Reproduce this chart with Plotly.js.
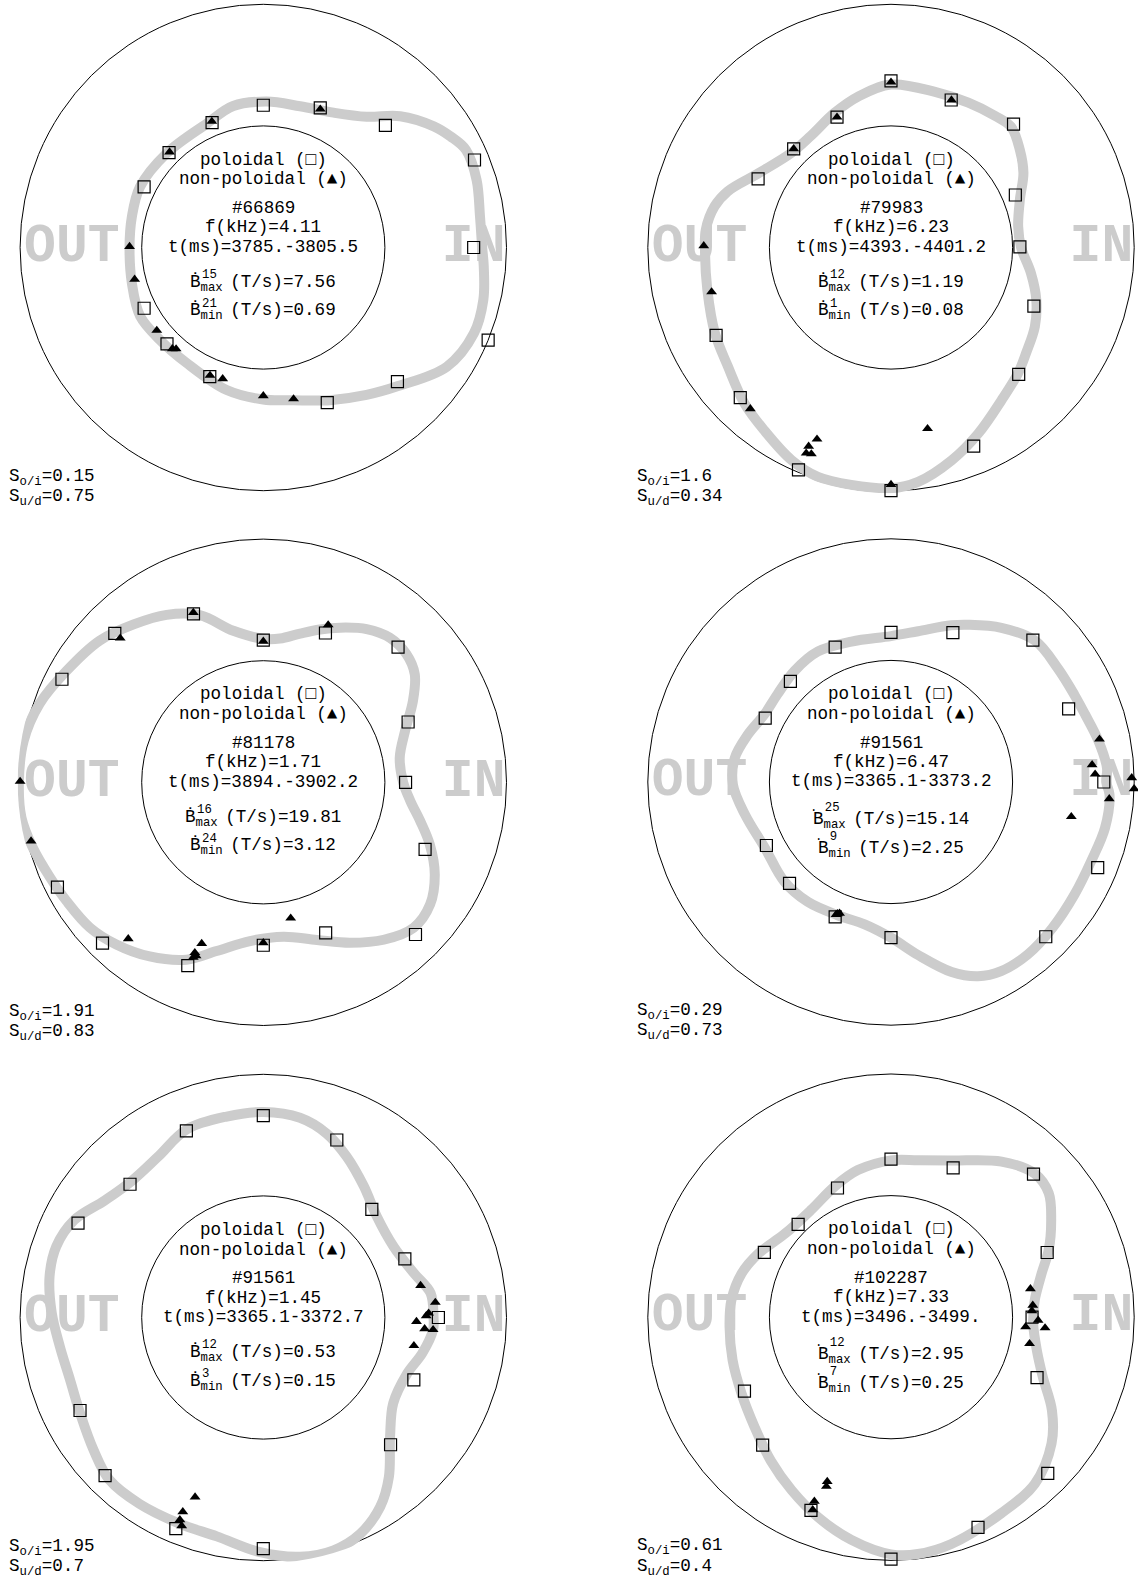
<!DOCTYPE html>
<html>
<head>
<meta charset="utf-8">
<script src="https://cdn.plot.ly/plotly-3.0.1.min.js"></script>
<style>html,body{margin:0;padding:0;background:#fff;}</style>
</head>
<body>
<div id="chart" style="width:1138px;height:1583px;"></div>
<script>
// ---- shot metadata (one entry per panel) ----
const shots    = ['#66869', '#79983', '#81178', '#91561', '#91561', '#102287'];
const freqs    = ['4.11', '6.23', '1.71', '6.47', '1.45', '7.33'];
const times    = ['3785.-3805.5', '4393.-4401.2', '3894.-3902.2', '3365.1-3373.2', '3365.1-3372.7', '3496.-3499.'];
const bmaxVal  = ['7.56', '1.19', '19.81', '15.14', '0.53', '2.95'];
const bmaxCoil = ['15', '12', '16', '25', '12', '12'];
const bminVal  = ['0.69', '0.08', '3.12', '2.25', '0.15', '0.25'];
const bminCoil = ['21', '1', '24', '9', '3', '7'];
const sOI      = ['0.15', '1.6', '1.91', '0.29', '1.95', '0.61'];
const sUD      = ['0.75', '0.34', '0.83', '0.73', '0.7', '0.4'];

// ---- amplitude contours (theta in degrees, r: inner ring = 1, outer ring = 2) ----
const p1CurveTheta = [0, 8, 17.6, 25.7, 30.7, 35.4, 43.8, 51.7, 62.5, 75.4, 88.7, 102, 114.5, 135.7, 153.7, 166.8, 180, 195.2, 209.2, 221.8, 236.5, 255.6, 270, 281.1, 293.6, 305, 314.2, 327, 337.8, 346.6, 355];
const p1CurveR     = [1.80, 1.80, 1.84, 1.85, 1.79, 1.72, 1.56, 1.37, 1.25, 1.20, 1.20, 1.19, 1.12, 1.11, 1.13, 1.11, 1.10, 1.12, 1.16, 1.14, 1.14, 1.21, 1.25, 1.28, 1.37, 1.48, 1.59, 1.80, 1.87, 1.86, 1.82];
const p2CurveTheta = [0, 9.4, 20.3, 29.4, 37.2, 45.2, 51.6, 61.9, 74.2, 90, 102.3, 112.8, 125.7, 136.6, 150.8, 161, 166.9, 174.5, 181.7, 193, 205.9, 216.1, 226.8, 235.3, 244.9, 252.3, 260.5, 270, 276.6, 285.9, 295.1, 305.9, 315.3, 322, 331.2, 340.2, 349.6];
const p2CurveR     = [1.07, 1.06, 1.13, 1.25, 1.33, 1.40, 1.38, 1.35, 1.33, 1.34, 1.27, 1.20, 1.13, 1.13, 1.25, 1.42, 1.49, 1.53, 1.53, 1.55, 1.61, 1.66, 1.76, 1.83, 1.93, 1.98, 1.98, 1.98, 1.94, 1.82, 1.69, 1.55, 1.47, 1.41, 1.35, 1.27, 1.17];
const p3CurveTheta = [0, 10.2, 19.9, 28.5, 35.5, 41.8, 48.8, 56, 63.6, 69.7, 76.1, 83.4, 90, 101.2, 110.8, 120, 129.4, 139.1, 150.5, 160.7, 170.2, 180, 188.3, 195.9, 204.1, 211.1, 220, 227.8, 236.9, 246.6, 254.5, 265.2, 277.4, 288.8, 298.4, 307.4, 315.9, 323.8, 331.8, 339.6, 346.1, 352.7];
const p3CurveR     = [1.15, 1.14, 1.24, 1.40, 1.53, 1.58, 1.58, 1.52, 1.42, 1.34, 1.26, 1.19, 1.18, 1.27, 1.47, 1.59, 1.68, 1.78, 1.86, 1.95, 2.00, 2.01, 2.01, 1.97, 1.92, 1.89, 1.86, 1.80, 1.71, 1.59, 1.44, 1.31, 1.28, 1.37, 1.50, 1.63, 1.72, 1.70, 1.60, 1.46, 1.33, 1.22];
const p4CurveTheta = [0, 3.7, 11.1, 19.2, 25.4, 34.3, 44.4, 54.4, 63.9, 69, 79.8, 90, 105.7, 119.2, 131, 142.3, 151.9, 161.7, 171.3, 181, 192.6, 207.6, 223, 235.2, 248.2, 259.5, 270, 278.9, 287.7, 294.1, 300.2, 308.4, 317.7, 328.5, 338.4, 347.9, 356.7];
const p4CurveR     = [1.77, 1.78, 1.74, 1.69, 1.67, 1.66, 1.66, 1.56, 1.44, 1.38, 1.26, 1.20, 1.20, 1.23, 1.21, 1.18, 1.18, 1.24, 1.30, 1.30, 1.23, 1.17, 1.20, 1.20, 1.18, 1.19, 1.28, 1.44, 1.64, 1.75, 1.80, 1.81, 1.79, 1.77, 1.77, 1.80, 1.80];
const p5CurveTheta = [0, 8.3, 16.5, 28.6, 41.7, 52.6, 62.6, 71, 79.6, 90, 100.3, 112.2, 123.3, 134.1, 143.5, 152.8, 161, 169.1, 178.8, 188.1, 197.9, 207.6, 217.9, 226.6, 236.4, 247.9, 258, 269.2, 278.7, 286.8, 294.1, 301.7, 308.2, 316.8, 326.6, 338.8, 347.3, 355.9];
const p5CurveR     = [1.40, 1.39, 1.29, 1.22, 1.25, 1.36, 1.49, 1.60, 1.67, 1.69, 1.68, 1.67, 1.58, 1.56, 1.62, 1.75, 1.80, 1.79, 1.74, 1.69, 1.67, 1.70, 1.77, 1.84, 1.84, 1.83, 1.84, 1.93, 1.99, 2.00, 1.95, 1.83, 1.67, 1.43, 1.28, 1.27, 1.34, 1.40];
const p6CurveTheta = [0, 6.7, 16.2, 23.1, 31.2, 38.2, 45, 54.6, 69, 80.2, 90, 102.7, 113.4, 126.7, 141.8, 154.4, 163.7, 173.9, 183.4, 195.2, 207, 218.8, 230.1, 240.1, 249.9, 259.9, 270, 276.5, 284.9, 299.3, 310.8, 321.8, 329.9, 338.6, 347.2, 357.4];
const p6CurveR     = [1.17, 1.19, 1.29, 1.41, 1.54, 1.65, 1.67, 1.57, 1.38, 1.31, 1.29, 1.24, 1.17, 1.10, 1.11, 1.21, 1.28, 1.32, 1.33, 1.35, 1.38, 1.44, 1.54, 1.64, 1.75, 1.86, 1.95, 1.96, 1.93, 1.85, 1.81, 1.68, 1.53, 1.34, 1.23, 1.17];

// ---- poloidal probes (squares) ----
const p1SqTheta = [90, 67.8, 45, 22.5, 0, 337.6, 315, 292.4, 247.5, 225, 207, 153, 134.8, 112.3];
const p1SqR     = [1.17, 1.24, 1.42, 1.88, 1.73, 2.00, 1.56, 1.38, 1.15, 1.12, 1.10, 1.10, 1.10, 1.11];
const p2SqTheta = [90, 67.8, 45.2, 22.9, 0.3, 337.7, 315.2, 292.6, 270, 247.4, 224.9, 206.7, 152.7, 134.6, 112.5];
const p2SqR     = [1.37, 1.31, 1.43, 1.11, 1.06, 1.27, 1.48, 1.77, 2.00, 1.98, 1.75, 1.61, 1.23, 1.14, 1.16];
const p3SqTheta = [112.5, 90, 67.4, 45.1, 22.6, 0, 337.5, 315, 292.5, 270, 247.6, 225, 207, 152.9, 134.9];
const p3SqR     = [1.50, 1.17, 1.33, 1.57, 1.29, 1.17, 1.44, 1.77, 1.34, 1.34, 1.63, 1.87, 1.90, 1.86, 1.73];
const p4SqTheta = [90, 67.5, 45, 22.4, 0, 337.5, 315, 270, 247.5, 225, 207, 153.1, 135, 112.5];
const p4SqR     = [1.23, 1.33, 1.65, 1.58, 1.75, 1.84, 1.80, 1.28, 1.20, 1.18, 1.15, 1.16, 1.17, 1.20];
const p5SqTheta = [90, 67.5, 44.9, 22.5, 0, 337.5, 315, 270, 247.5, 225, 206.9, 153, 135, 112.4];
const p5SqR     = [1.66, 1.58, 1.26, 1.26, 1.44, 1.34, 1.48, 1.90, 1.88, 1.84, 1.69, 1.71, 1.55, 1.66];
const p6SqTheta = [90, 67.4, 45.1, 22.5, 0, 337.5, 315.1, 292.5, 270, 247.5, 224.9, 206.8, 152.9, 135, 112.5];
const p6SqR     = [1.30, 1.33, 1.66, 1.39, 1.16, 1.30, 1.82, 1.87, 1.99, 1.72, 1.49, 1.35, 1.17, 1.08, 1.15];

// ---- non-poloidal probes (triangles) ----
const p1TriTheta = [67.6, 112.2, 134.5, 179.6, 193.9, 217.9, 228.1, 229.3, 247.4, 252.8, 270, 281.3];
const p1TriR     = [1.23, 1.12, 1.10, 1.10, 1.09, 1.11, 1.12, 1.10, 1.14, 1.13, 1.22, 1.27];
const p2TriTheta = [90, 67.7, 112.5, 134.6, 179.5, 193.9, 228.9, 248.9, 247.5, 247.6, 248.9, 281.4, 270];
const p2TriR     = [1.36, 1.31, 1.16, 1.14, 1.54, 1.52, 1.76, 1.69, 1.77, 1.83, 1.82, 1.52, 1.95];
const p3TriTheta = [112.4, 134.8, 90, 67.6, 179.8, 194.2, 229.2, 249.1, 248.1, 248.2, 248.8, 270, 281.4];
const p3TriR     = [1.51, 1.67, 1.16, 1.40, 2.00, 1.97, 1.70, 1.42, 1.51, 1.55, 1.53, 1.32, 1.14];
const p4TriTheta = [11.6, 4.9, 2.2, 1, 358.4, 355.6, 349.1, 247.5, 248.6, 247.9];
const p4TriR     = [1.75, 1.66, 1.68, 1.98, 2.00, 1.80, 1.51, 1.18, 1.16, 1.17];
const p5TriTheta = [11.5, 5, 1.5, 0.6, 358.5, 356, 355.9, 349.4, 249.2, 247.5, 247.6, 248.6];
const p5TriR     = [1.32, 1.42, 1.36, 1.34, 1.26, 1.33, 1.40, 1.26, 1.58, 1.73, 1.80, 1.84];
const p6TriTheta = [11.5, 4.8, 2.6, 358.8, 355.9, 356, 349.2, 248.8, 249.1, 247.4, 247.9];
const p6TriR     = [1.17, 1.17, 1.16, 1.21, 1.11, 1.27, 1.16, 1.45, 1.49, 1.64, 1.71];

const curveTheta = [p1CurveTheta, p2CurveTheta, p3CurveTheta, p4CurveTheta, p5CurveTheta, p6CurveTheta];
const curveR     = [p1CurveR, p2CurveR, p3CurveR, p4CurveR, p5CurveR, p6CurveR];
const sqTheta    = [p1SqTheta, p2SqTheta, p3SqTheta, p4SqTheta, p5SqTheta, p6SqTheta];
const sqR        = [p1SqR, p2SqR, p3SqR, p4SqR, p5SqR, p6SqR];
const triTheta   = [p1TriTheta, p2TriTheta, p3TriTheta, p4TriTheta, p5TriTheta, p6TriTheta];
const triR       = [p1TriR, p2TriR, p3TriR, p4TriR, p5TriR, p6TriR];

// ---- page geometry ----
const W = 1138, H = 1583;
const UNIT = 121.6;          // pixels per radial unit
const RMAX = 2.02;           // radial range shown in each subplot
const RINGS = [1, 2];        // inner and outer reference circles
const centers = [[263.3, 247.5], [891, 247.5], [263.3, 782.3], [891, 782], [263.3, 1317.5], [891, 1317.2]];
const raisedDot = [false, false, false, true, false, true];  // dot drawn at superscript height

const FONT = 'Liberation Mono, DejaVu Sans Mono, monospace';
const FS = 17.6, CW = FS * 0.6, SMALL = FS * 0.7;
const SIDE_FS = 53, SIDE_CW = SIDE_FS * 0.6;
const GREY = '#cccccc';

const traces = [];
const layout = {
  width: W, height: H, autosize: false,
  margin: {l: 0, r: 0, t: 0, b: 0, pad: 0},
  paper_bgcolor: '#fff', plot_bgcolor: '#fff',
  showlegend: false,
  annotations: []
};

const px = v => v / W;
const py = v => 1 - v / H;
function note(x, y, text, size, xanchor) {
  layout.annotations.push({
    xref: 'paper', yref: 'paper', x: px(x), y: py(y),
    xanchor: xanchor || 'center', yanchor: 'middle',
    text: text, showarrow: false,
    font: {family: FONT, size: size || FS, color: '#000'}
  });
}

centers.forEach(([cx, cy], i) => {
  const id = i === 0 ? 'polar' : 'polar' + (i + 1);
  const rp = RMAX * UNIT;
  layout[id] = {
    domain: {x: [px(cx - rp), px(cx + rp)], y: [py(cy + rp), py(cy - rp)]},
    bgcolor: 'rgba(0,0,0,0)',
    radialaxis: {range: [0, RMAX], tickmode: 'array', tickvals: RINGS, showticklabels: false,
                 ticks: '', showline: false, showgrid: true, gridcolor: '#000', gridwidth: 1,
                 layer: 'below traces'},
    angularaxis: {showgrid: false, showline: false, ticks: '', showticklabels: false,
                  direction: 'counterclockwise', rotation: 0}
  };

  // OUT / IN side labels, set just inside the outer ring
  const outR = (2 * UNIT - 1.5 * SIDE_CW - 4) / UNIT;
  const inR = (2 * UNIT - 1.0 * SIDE_CW - 1) / UNIT;
  traces.push({
    type: 'scatterpolar', subplot: id, mode: 'text',
    theta: [180, 0], r: [outR, inR], text: ['OUT', 'IN'],
    textposition: 'middle center', cliponaxis: false,
    textfont: {family: FONT, size: SIDE_FS, color: GREY, weight: 'bold'},
    hoverinfo: 'skip'
  });

  // amplitude contour (closed)
  traces.push({
    type: 'scatterpolar', subplot: id, mode: 'lines',
    theta: curveTheta[i].concat([curveTheta[i][0]]),
    r: curveR[i].concat([curveR[i][0]]),
    line: {color: GREY, width: 10, shape: 'spline', smoothing: 1},
    cliponaxis: false, hoverinfo: 'skip'
  });

  // poloidal probes
  traces.push({
    type: 'scatterpolar', subplot: id, mode: 'markers',
    theta: sqTheta[i], r: sqR[i], cliponaxis: false,
    marker: {symbol: 'square-open', size: 12, color: '#000', line: {width: 1.2, color: '#000'}},
    hoverinfo: 'skip'
  });

  // non-poloidal probes
  traces.push({
    type: 'scatterpolar', subplot: id, mode: 'markers',
    theta: triTheta[i], r: triR[i], cliponaxis: false,
    marker: {symbol: 'triangle-up', size: 9.5, color: '#000', line: {width: 0}},
    hoverinfo: 'skip'
  });

  // centre text block
  note(cx, cy - 88, 'poloidal (\u25A1)');
  note(cx, cy - 68, 'non-poloidal (\u25B2)');
  note(cx, cy - 39.3, shots[i]);
  note(cx, cy - 20, 'f(kHz)=' + freqs[i]);
  note(cx, cy - 0.7, 't(ms)=' + times[i]);

  const raised = raisedDot[i];
  const lines = [
    {tag: 'max', val: bmaxVal[i], coil: bmaxCoil[i], dy: raised ? 38 : 35.7},
    {tag: 'min', val: bminVal[i], coil: bminCoil[i], dy: raised ? 67 : 64.5}
  ];
  lines.forEach(l => {
    const tail = '(T/s)=' + l.val;
    const width = (1 + tail.length) * CW + 4 * 0.7 * CW;
    const left = cx - width / 2;
    note(cx, cy + l.dy, (raised ? 'B' : '\u1E02') + '<sub>' + l.tag + '\u00A0</sub>' + tail);
    if (raised) {
      note(left - 5, cy + l.dy - 12, '. ' + l.coil, SMALL, 'left');
    } else {
      note(left + CW - 1, cy + l.dy - 8, l.coil, SMALL, 'left');
    }
  });

  // asymmetry factors
  note(cx - 256, cy + 229.7, 'S<sub>o/i</sub>=' + sOI[i], FS, 'left');
  note(cx - 256, cy + 249.8, 'S<sub>u/d</sub>=' + sUD[i], FS, 'left');
});

Plotly.newPlot('chart', traces, layout, {staticPlot: true, displayModeBar: false});
</script>
</body>
</html>
